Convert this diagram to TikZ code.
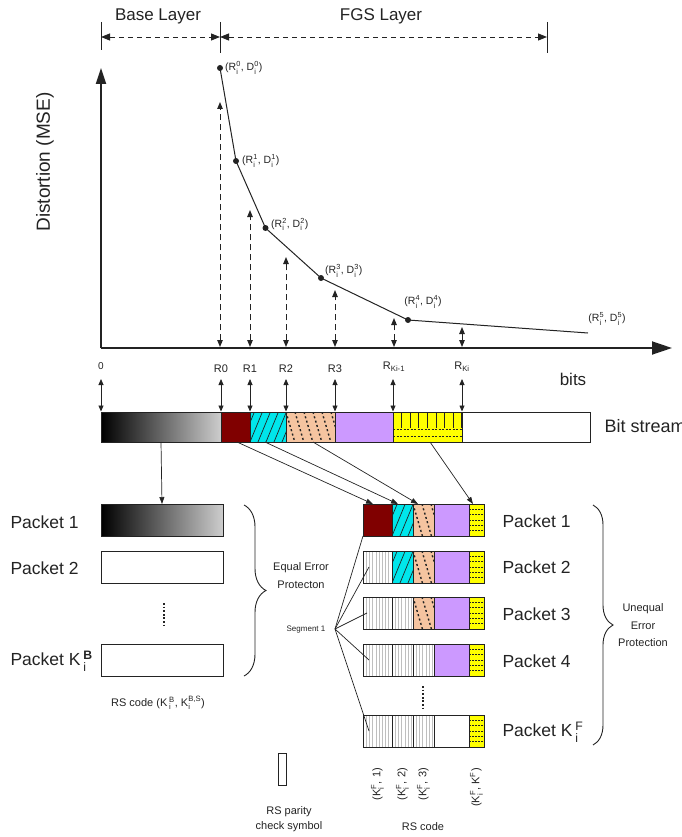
\documentclass[tikz,border=0pt]{standalone}
\usepackage{fontspec}
\setmainfont{Liberation Sans}
\usepackage{amsmath}
\usetikzlibrary{arrows.meta,decorations.pathreplacing,calc}
\definecolor{dred}{RGB}{128,0,0}
\definecolor{cyanc}{RGB}{0,230,235}
\definecolor{peach}{RGB}{245,196,160}
\definecolor{lav}{RGB}{204,153,255}
\definecolor{yel}{RGB}{255,255,0}
\definecolor{lgr}{RGB}{205,205,205}
\definecolor{ln}{RGB}{35,35,35}
\newcommand{\supsb}[2]{$^{\text{#1}}_{\text{#2}}$}
\newcommand{\fs}[1]{\fontsize{#1}{#1}\selectfont}
\begin{document}
\begin{tikzpicture}[x=1pt,y=-1pt,
  every node/.style={text=ln},
  cellbox/.style={draw=ln,line width=0.9,minimum height=#1,inner sep=0,anchor=north west,outer sep=0},
  cellbox/.default=32pt,
  grad/.style={left color=black,right color=lgr},
  redc/.style={fill=dred},
  lavc/.style={fill=lav},
  whitec/.style={fill=white},
  cyanh/.style={fill=cyanc,path picture={\foreach \k in {-6,...,10}{\draw[line width=0.7,ln] ([xshift=\k*8pt]path picture bounding box.south west) -- ++(14,-34);}}},
  peachh/.style={fill=peach,path picture={\foreach \k in {-5,...,12}{\draw[line width=1.4,ln,dash pattern=on 2pt off 2.5pt] ([xshift=\k*9pt]path picture bounding box.north west) -- ++(10,34);}}},
  ybrick/.style={fill=yel,path picture={\foreach \k in {1,...,8}{\draw[line width=0.7,ln] ([xshift=\k*8.6pt]path picture bounding box.north west) -- ++(0,16);}
     \draw[line width=0.8,ln,dash pattern=on 2pt off 1.5pt] ([yshift=-17pt]path picture bounding box.north west) -- ++(80,0);
     \draw[line width=0.8,ln,dash pattern=on 2pt off 1.5pt] ([yshift=-24pt]path picture bounding box.north west) -- ++(80,0);}},
  ylines/.style={fill=yel,path picture={\foreach \k in {1,...,5}{\draw[line width=0.7,ln,dash pattern=on 2pt off 1pt] ([yshift=-\k*5.3pt]path picture bounding box.north west) -- ++(20,0);}}},
  stripe/.style={fill=white,path picture={\foreach \k in {1,...,10}{\draw[black!25,line width=0.35] ([xshift=\k*3.2pt]path picture bounding box.north west) -- ++(0,34);}}},
  dasharr/.style={dash pattern=on 6pt off 4pt,line width=1,ln,{Triangle[length=7pt,width=5.5pt]}-{Triangle[length=7pt,width=5.5pt]}},
  dimarr/.style={dash pattern=on 5pt off 4pt,line width=0.9,ln,{Triangle[length=9pt,width=7pt]}-{Triangle[length=9pt,width=7pt]}},
  sarr/.style={line width=0.8,ln,{Triangle[length=6pt,width=5pt]}-{Triangle[length=6pt,width=5pt]}},
  conn/.style={line width=0.7,ln,-{Triangle[length=7pt,width=5pt]}},
  thinl/.style={line width=0.7,ln},
  dotv/.style={line width=2,ln,dash pattern=on 1.8pt off 1.8pt},
  brc/.style={decorate,line width=0.9,ln},
  pt/.style={circle,fill=ln,inner sep=0,minimum size=6pt},
  lab/.style={font=\fs{10.5},inner sep=1pt}
]
\useasboundingbox (0,0) rectangle (681,837);
% top dimension
\node[font=\fs{17}] (tbase) at (158,16) {Base Layer};
\node[font=\fs{17}] (tfgs) at (381,16) {FGS Layer};
\coordinate (t0a) at (101,22); \coordinate (t0b) at (101,50);
\coordinate (t1a) at (220,22); \coordinate (t1b) at (220,53);
\coordinate (t2a) at (547,22); \coordinate (t2b) at (547,53);
\draw[line width=0.9,ln] (t0a) -- (t0b) (t1a) -- (t1b) (t2a) -- (t2b);
\coordinate (d0) at (101,37); \coordinate (d1) at (220,37); \coordinate (d2) at (547,37);
\draw[dimarr] (d0) -- (d1);
\draw[dimarr] (d1) -- (d2);
% axes
\coordinate (orig) at (101,348);
\coordinate (ytop) at (101,68);
\coordinate (xend) at (672,348);
\draw[line width=1.8,ln,-{Triangle[length=16pt,width=10pt]}] (orig) -- (ytop);
\draw[line width=1.8,ln,-{Triangle[length=20pt,width=13pt]}] (orig) -- (xend);
\node[rotate=90,font=\fs{19}] (ylab) at (45,162) {Distortion (MSE)};
\node[font=\fs{17}] (bits) at (573,379) {bits};
% curve
\coordinate (P0) at (220,68);
\coordinate (P1) at (236,161);
\coordinate (P2) at (265.5,228);
\coordinate (P3) at (321,278);
\coordinate (P4) at (408,320);
\coordinate (P5) at (588,333);
\draw[line width=1,ln] (P0) -- (P1) -- (P2) -- (P3) -- (P4) -- (P5);
\foreach \p in {P0,P1,P2,P3,P4} \node[pt] at (\p) {};
\node[lab,anchor=west] (l0) at (224,68) {(R\supsb{0}{i}, D\supsb{0}{i})};
\node[lab,anchor=west] (l1) at (241,161) {(R\supsb{1}{i}, D\supsb{1}{i})};
\node[lab,anchor=west] (l2) at (270,224) {(R\supsb{2}{i}, D\supsb{2}{i})};
\node[lab,anchor=west] (l3) at (324,271) {(R\supsb{3}{i}, D\supsb{3}{i})};
\node[lab] (l4) at (423,302) {(R\supsb{4}{i}, D\supsb{4}{i})};
\node[lab] (l5) at (607,319) {(R\supsb{5}{i}, D\supsb{5}{i})};
% vertical dashed arrows
\foreach \x/\t [count=\i] in {220/102,250/210,286/257,335/290,394/318,462/327}{
  \coordinate (ab\i) at (\x,347);
  \coordinate (at\i) at (\x,\t);
  \draw[dasharr] (ab\i) -- (at\i);
}
% labels under axis
\node[font=\fs{10}] (r00) at (101,366) {0};
\node[font=\fs{11}] (rr0) at (221,369) {R0};
\node[font=\fs{11}] (rr1) at (250,369) {R1};
\node[font=\fs{11}] (rr2) at (286,369) {R2};
\node[font=\fs{11}] (rr3) at (335,369) {R3};
\node[font=\fs{11}] (rr4) at (394,367) {R$_{\text{Ki-1}}$};
\node[font=\fs{11}] (rr5) at (462,367) {R$_{\text{Ki}}$};
% bit stream
\node[cellbox=30pt,grad,minimum width=120pt] (bsg) at (101,412) {};
\node[cellbox=30pt,redc,minimum width=29pt] (bsr) at (221,412) {};
\node[cellbox=30pt,cyanh,minimum width=36pt] (bsc) at (250,412) {};
\node[cellbox=30pt,peachh,minimum width=49pt] (bsp) at (286,412) {};
\node[cellbox=30pt,lavc,minimum width=58pt] (bsl) at (335,412) {};
\node[cellbox=30pt,ybrick,minimum width=69pt] (bsy) at (393,412) {};
\node[cellbox=30pt,whitec,minimum width=128pt] (bsw) at (462,412) {};
\node[font=\fs{18},anchor=west] (bstxt) at (601,426) {Bit stream};
\foreach \x [count=\i] in {101,221,250,286,335,393,462}{
  \coordinate (sa\i) at (\x,379);
  \coordinate (sb\i) at (\x,411.5);
  \draw[sarr] (sa\i) -- (sb\i);
}
% left packets
\node[cellbox,grad,minimum width=122pt] (lp1) at (101,504) {};
\node[cellbox,whitec,minimum width=122pt] (lp2) at (101,551) {};
\node[cellbox,whitec,minimum width=122pt] (lpk) at (101,644) {};
\node[font=\fs{17.5},anchor=west] (lt1) at (7,522) {Packet 1};
\node[font=\fs{17.5},anchor=west] (lt2) at (7,568) {Packet 2};
\node[font=\fs{17.5},anchor=west] (ltk) at (7,661) {Packet K\,\supsb{\textbf{B}}{i}};
\coordinate (ldt) at (164,603); \coordinate (ldb) at (164,626);
\draw[dotv] (ldt) -- (ldb);
\draw[conn] (bsg.south) -- (lp1.north);
\coordinate (lbt) at (244,505); \coordinate (lbb) at (244,676);
\draw[brc,decoration={brace,amplitude=22pt}] (lbt) -- (lbb);
\node[font=\fs{11}] (eq1) at (301,568) {Equal Error};
\node[font=\fs{11}] (eq2) at (301,585) {Protecton};
\node[font=\fs{11}] (rsl) at (158,703) {RS code (K\,\supsb{B}{i}, K\supsb{B,S}{i})};
% right packets
\newcommand{\prow}[7]{%
  \node[cellbox,#3,minimum width=29pt] (#1a) at (363,#2) {};
  \node[cellbox,#4,minimum width=21pt] (#1b) at (392,#2) {};
  \node[cellbox,#5,minimum width=21pt] (#1c) at (413,#2) {};
  \node[cellbox,#6,minimum width=35pt] (#1d) at (434,#2) {};
  \node[cellbox,#7,minimum width=15pt] (#1e) at (469,#2) {};}
\prow{p1}{504}{redc}{cyanh}{peachh}{lavc}{ylines}
\prow{p2}{551}{stripe}{cyanh}{peachh}{lavc}{ylines}
\prow{p3}{597}{stripe}{stripe}{peachh}{lavc}{ylines}
\prow{p4}{644}{stripe}{stripe}{stripe}{lavc}{ylines}
\prow{pk}{715}{stripe}{stripe}{stripe}{whitec}{ylines}
\node[font=\fs{17.5},anchor=west] (rt1) at (499,521) {Packet 1};
\node[font=\fs{17.5},anchor=west] (rt2) at (499,567) {Packet 2};
\node[font=\fs{17.5},anchor=west] (rt3) at (499,614) {Packet 3};
\node[font=\fs{17.5},anchor=west] (rt4) at (499,661) {Packet 4};
\node[font=\fs{17.5},anchor=west] (rtk) at (499,732) {Packet K\,\supsb{F}{i}};
\coordinate (rdt) at (423,686); \coordinate (rdb) at (423,708);
\draw[dotv] (rdt) -- (rdb);
\draw[conn] ([xshift=1.5pt]bsr.south) -- ([xshift=-4.5pt]p1a.north);
\draw[conn] ([xshift=-3pt]bsc.south) -- ([xshift=-4.5pt]p1b.north);
\draw[conn] ([xshift=2.5pt]bsp.south) -- ([xshift=-5.5pt]p1c.north);
\draw[conn] ([xshift=2.5pt]bsy.south) -- ([xshift=-3.5pt]p1e.north);
\coordinate (rbt) at (593,505); \coordinate (rbb) at (593,745);
\draw[brc,decoration={brace,amplitude=20pt}] (rbt) -- (rbb);
\node[font=\fs{11}] (ue1) at (643,609) {Unequal};
\node[font=\fs{11}] (ue2) at (643,626) {Error};
\node[font=\fs{11}] (ue3) at (643,643) {Protection};
% segment fan
\node[font=\fs{8}] (segl) at (306,630) {Segment 1};
\coordinate (seg) at (335,629);
\draw[thinl] (seg) -- (p1a.south west);
\draw[thinl] (seg) -- ([xshift=6pt]p2a.west);
\draw[thinl] (seg) -- ([xshift=4pt]p3a.west);
\draw[thinl] (seg) -- ([xshift=6pt]p4a.west);
\draw[thinl] (seg) -- ([xshift=6pt]pka.west);
% bottom labels
\node[rotate=90,anchor=east,font=\fs{11},inner sep=0] (k1) at ([yshift=-21pt]pka.south) {(K\supsb{F}{i}, 1)};
\node[rotate=90,anchor=east,font=\fs{11},inner sep=0] (k2) at ([yshift=-21pt]pkb.south) {(K\supsb{F}{i}, 2)};
\node[rotate=90,anchor=east,font=\fs{11},inner sep=0] (k3) at ([yshift=-21pt]pkc.south) {(K\supsb{F}{i}, 3)};
\node[rotate=90,anchor=east,font=\fs{11},inner sep=0] (k4) at ([yshift=-21pt]pke.south) {(K\supsb{F}{i}, K$^{\text{F}}$)};
\node[font=\fs{11}] (rsc) at (423,827) {RS code};
\node[draw=ln,line width=0.8,minimum width=8pt,minimum height=32pt,inner sep=0,anchor=north west] (rsp) at (278,753) {};
\node[font=\fs{11}] (rsp1) at (289,812) {RS parity};
\node[font=\fs{11}] (rsp2) at (289,827) {check symbol};
\end{tikzpicture}
\end{document}
